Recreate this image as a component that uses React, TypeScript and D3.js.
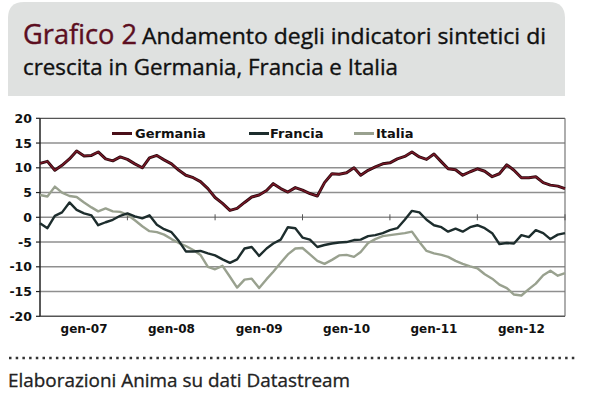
import React from "react";
import * as d3 from "d3";

// monthly readings, Jul 2006 -> Jul 2012
const startMonth = new Date(2006, 6, 1);

const germania = [
  10.9, 11.3, 9.5, 10.5, 11.8, 13.4, 12.4, 12.5, 13.2, 11.8, 11.4, 12.2,
  11.7, 10.8, 10.0, 12.0, 12.5, 11.6, 10.8, 9.5, 8.5, 8.0, 7.2, 5.8,
  4.0, 2.8, 1.4, 1.8, 3.0, 4.1, 4.5, 5.4, 6.8, 5.8, 5.1, 6.0,
  5.5, 4.8, 4.3, 7.0, 8.8, 8.7, 9.0, 10.0, 8.5, 9.5, 10.2, 10.8,
  11.0, 11.8, 12.3, 13.2, 12.2, 11.7, 12.8, 11.2, 9.8, 9.6, 8.5, 9.2,
  9.8, 9.3, 8.2, 8.8, 10.6, 9.5, 8.0, 8.0, 8.2, 7.0, 6.5, 6.3, 5.8,
];

const francia = [
  -1.2, -2.2, 0.3, 1.0, 3.0, 1.5, 0.8, 0.4, -1.6, -1.0, -0.5, 0.3,
  0.8, 0.2, -0.2, 0.4, -1.5, -2.4, -3.0, -4.8, -6.9, -6.9, -6.8, -7.3,
  -7.7, -8.5, -9.2, -8.5, -6.3, -6.0, -7.8, -6.3, -5.3, -4.5, -2.0, -2.2,
  -4.1, -4.5, -6.0, -5.6, -5.3, -5.1, -5.0, -4.6, -4.5, -3.8, -3.6, -3.2,
  -2.6, -2.2, -0.5, 1.3, 1.0, -0.5, -1.6, -2.0, -2.9, -2.3, -2.9, -2.0,
  -1.6, -2.2, -3.2, -5.4, -5.2, -5.3, -3.6, -4.0, -2.6, -3.2, -4.4, -3.5, -3.2,
];

const italia = [
  4.5, 4.2, 6.2, 5.0, 4.3, 4.1, 3.0, 2.0, 1.2, 1.8, 1.2, 1.1,
  0.5, -0.6, -1.8, -2.8, -3.0, -3.5, -4.4, -5.2, -5.8, -6.6, -7.6, -10.0,
  -10.5, -9.8, -12.0, -14.2, -12.6, -12.4, -14.3, -12.5, -11.0, -9.2, -7.5, -6.3,
  -6.2, -7.5, -8.8, -9.4, -8.6, -7.7, -7.6, -8.0, -7.0, -5.2, -4.4, -3.8,
  -3.6, -3.4, -3.2, -2.9, -5.0, -6.8, -7.3, -7.6, -8.0, -8.8, -9.4, -9.9,
  -10.3, -11.5, -12.4, -13.6, -14.3, -15.6, -15.8, -14.5, -13.4, -11.7, -10.8, -11.8, -11.3,
];

const yTicks = [20, 15, 10, 5, 0, -5, -10, -15, -20];
const xTickLabels = ["gen-07", "gen-08", "gen-09", "gen-10", "gen-11", "gen-12"];
const xTickYears = [2007, 2008, 2009, 2010, 2011, 2012];

const colors: Record<string, string> = {
  Germania: "#7a1827",
  Francia: "#1d2d2d",
  Italia: "#99a18f",
};

type Pt = { date: Date; v: number };

export default function App() {
  const W = 600;
  const H = 396;
  const plot = { left: 40, right: 565, top: 118.3, bottom: 316.3 };

  const x = d3
    .scaleTime()
    .domain([startMonth, d3.timeMonth.offset(startMonth, 72)])
    .range([plot.left, plot.right]);
  const y = d3.scaleLinear().domain([-20, 20]).range([plot.bottom, plot.top]);

  const toPoints = (vals: number[]): Pt[] =>
    vals.map((v, i) => ({ date: d3.timeMonth.offset(startMonth, i), v }));

  const line = d3
    .line<Pt>()
    .x((d) => x(d.date))
    .y((d) => y(d.v));

  const zeroY = y(0);
  const julTicks = xTickYears.map((yr) => x(new Date(yr, 6, 1)));

  // legend
  const legend = [
    { name: "Germania", x1: 112, tx: 135 },
    { name: "Francia", x1: 249, tx: 270 },
    { name: "Italia", x1: 354, tx: 376 },
  ];
  const legendY = 133.5;

  const axisFont = "'DejaVu Sans', Verdana, sans-serif";
  const titleFont = "'Open Sans', 'Noto Sans', sans-serif";

  const headerPath = (() => {
    const x0 = 8, y0 = 2, x1 = 565, y1 = 96, r = 16;
    return `M${x0},${y1} L${x0},${y0 + r} Q${x0},${y0} ${x0 + r},${y0} L${x1 - r},${y0} Q${x1},${y0} ${x1},${y0 + r} L${x1},${y1} Z`;
  })();

  return (
    <svg
      width={W}
      height={H}
      style={{ position: "absolute", left: 0, top: 0, background: "#fff" }}
    >
      <rect x={0} y={0} width={W} height={H} fill="#fff" />
      {/* header */}
      <path d={headerPath} fill="#dfe1e0" />
      <text
        x={23}
        y={44}
        fontFamily={titleFont}
        fontSize={27}
        fill="#5c0e1f"
        stroke="#5c0e1f"
        strokeWidth={0.4}
        textLength={114}
        lengthAdjust="spacingAndGlyphs"
      >
        Grafico 2
      </text>
      <text
        x={142}
        y={44}
        fontFamily={titleFont}
        fontSize={21}
        fill="#111"
        stroke="#111"
        strokeWidth={0.35}
        textLength={404}
        lengthAdjust="spacingAndGlyphs"
      >
        Andamento degli indicatori sintetici di
      </text>
      <text
        x={23}
        y={75}
        fontFamily={titleFont}
        fontSize={21}
        fill="#111"
        stroke="#111"
        strokeWidth={0.35}
        textLength={375}
        lengthAdjust="spacingAndGlyphs"
      >
        crescita in Germania, Francia e Italia
      </text>

      {/* grid */}
      {yTicks.map((t) => (
        <line
          key={t}
          x1={plot.left}
          x2={plot.right}
          y1={y(t)}
          y2={y(t)}
          stroke={t === 20 ? "#555" : "#8f8f8f"}
          strokeWidth={t === 20 ? 1.2 : 1.5}
        />
      ))}
      <line x1={plot.right} x2={plot.right} y1={plot.top} y2={plot.bottom} stroke="#777" strokeWidth={1.2} />
      <line x1={plot.left} x2={plot.right} y1={plot.bottom} y2={plot.bottom} stroke="#555" strokeWidth={1.2} />
      <line x1={plot.left} x2={plot.left} y1={plot.top} y2={plot.bottom} stroke="#222" strokeWidth={1.5} />

      {/* y ticks and labels */}
      {yTicks.map((t) => (
        <g key={"yl" + t}>
          <line x1={plot.left - 4} x2={plot.left} y1={y(t)} y2={y(t)} stroke="#222" strokeWidth={1.2} />
          <text
            x={32}
            y={y(t)}
            dy="0.36em"
            textAnchor="end"
            fontFamily={axisFont}
            fontWeight="bold"
            fontSize={12.5}
            fill="#111"
          >
            {t}
          </text>
        </g>
      ))}

      {/* category axis ticks on zero line */}
      {julTicks.map((tx, i) => (
        <line key={"xt" + i} x1={tx} x2={tx} y1={zeroY - 3} y2={zeroY + 3} stroke="#555" strokeWidth={1} />
      ))}

      {/* x labels */}
      {xTickLabels.map((lab, i) => (
        <text
          key={lab}
          x={x(new Date(xTickYears[i], 0, 1))}
          y={333}
          textAnchor="middle"
          fontFamily={axisFont}
          fontWeight="bold"
          fontSize={12}
          fill="#111"
        >
          {lab}
        </text>
      ))}

      {/* lines */}
      <path d={line(toPoints(italia)) || ""} fill="none" stroke={colors.Italia} strokeWidth={2.4} strokeLinejoin="round" />
      <path d={line(toPoints(francia)) || ""} fill="none" stroke={colors.Francia} strokeWidth={2.4} strokeLinejoin="round" />
      <path d={line(toPoints(germania)) || ""} fill="none" stroke="#2a0a0f" strokeWidth={3} strokeLinejoin="round" />
      <path d={line(toPoints(germania)) || ""} fill="none" stroke={colors.Germania} strokeWidth={1.4} strokeLinejoin="round" />

      {/* legend */}
      {legend.map((l) => (
        <g key={l.name}>
          <line
            x1={l.x1}
            x2={l.x1 + 20}
            y1={legendY}
            y2={legendY}
            stroke={l.name === "Germania" ? "#4a0f18" : colors[l.name]}
            strokeWidth={3}
          />
          <text
            x={l.tx}
            y={legendY}
            dy="0.36em"
            fontFamily={axisFont}
            fontWeight="bold"
            fontSize={13}
            fill="#111"
          >
            {l.name}
          </text>
        </g>
      ))}

      {/* footer */}
      <line
        x1={9}
        x2={576}
        y1={358}
        y2={358}
        stroke="#333"
        strokeWidth={2.5}
        strokeDasharray="2.5 4.2"
      />
      <text
        x={8}
        y={387}
        fontFamily={titleFont}
        fontSize={18}
        fill="#222"
        stroke="#222"
        strokeWidth={0.3}
        textLength={342}
        lengthAdjust="spacingAndGlyphs"
      >
        Elaborazioni Anima su dati Datastream
      </text>
    </svg>
  );
}
